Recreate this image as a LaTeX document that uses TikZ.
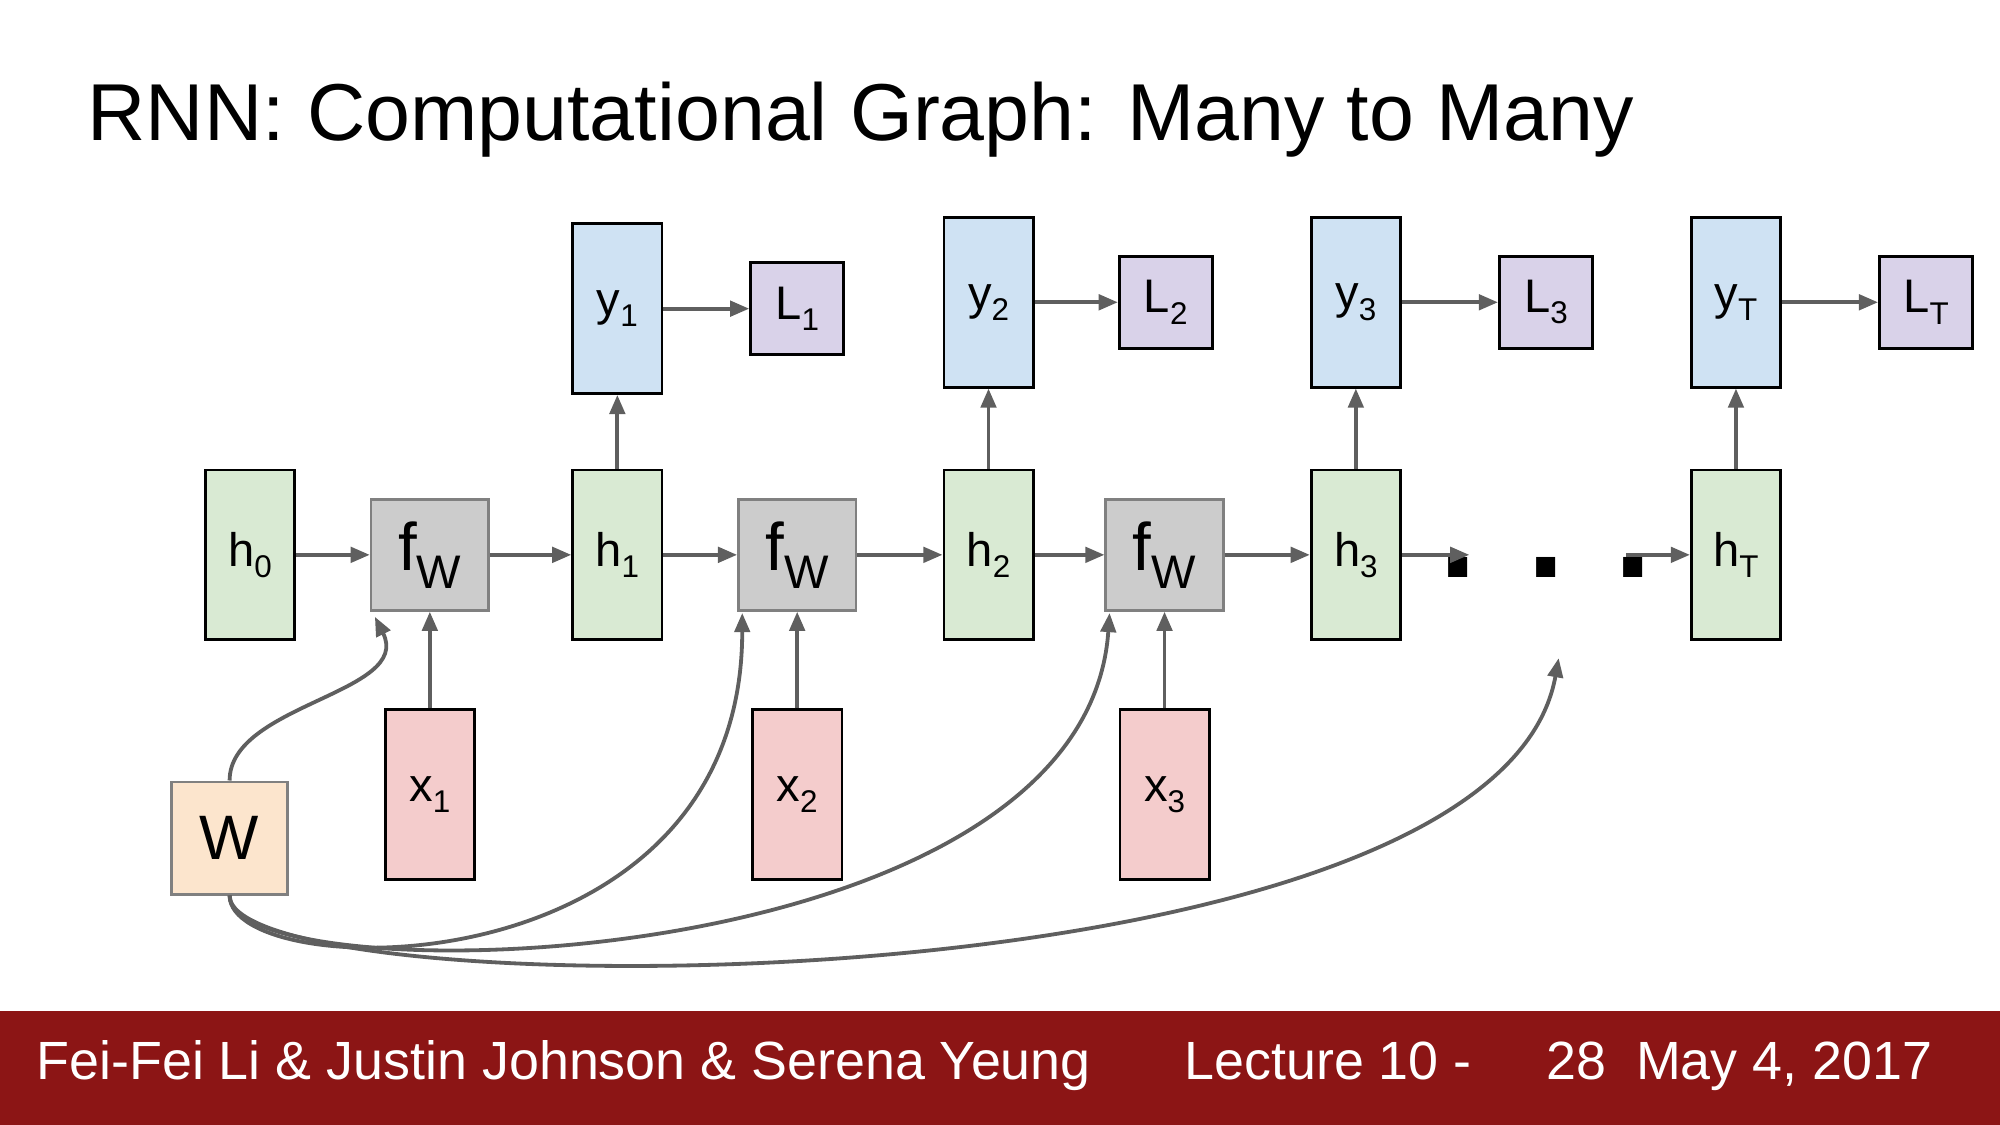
\documentclass[tikz,border=0pt]{standalone}
\usepackage{fontspec}
\setmainfont{Liberation Sans}
\usetikzlibrary{arrows.meta}
\definecolor{hgreen}{RGB}{217,234,211}
\definecolor{yblue}{RGB}{207,226,243}
\definecolor{lpurple}{RGB}{217,210,233}
\definecolor{xred}{RGB}{244,204,204}
\definecolor{fgray}{RGB}{204,204,204}
\definecolor{worange}{RGB}{252,229,205}
\definecolor{linegray}{RGB}{95,95,95}
\definecolor{footred}{RGB}{140,21,21}
\newcommand{\sub}[1]{\raisebox{-0.45ex}{\fontsize{7}{7}\selectfont #1}}

\begin{document}
\begin{tikzpicture}[x=0.01cm, y=-0.01cm,
        every node/.style={font=\fontsize{10.5}{12}\selectfont, inner sep=0pt},
        tallbox/.style={rectangle, draw=black, line width=0.6pt, minimum width=0.70cm, minimum height=1.33cm},
        hbox/.style={tallbox, fill=hgreen},
        ybox/.style={tallbox, fill=yblue},
        xbox/.style={tallbox, fill=xred},
        lbox/.style={rectangle, draw=black, line width=0.6pt, fill=lpurple, minimum width=0.73cm, minimum height=0.72cm},
        fbox/.style={rectangle, draw=gray, line width=0.6pt, fill=fgray, minimum width=0.92cm, minimum height=0.87cm, font=\fontsize{15}{16}\selectfont},
        wbox/.style={rectangle, draw=gray, line width=0.6pt, fill=worange, minimum width=0.91cm, minimum height=0.88cm, font=\fontsize{14}{16}\selectfont},
        arrow/.style={-{Triangle[length=0.15cm, width=0.12cm]}, draw=linegray, fill=linegray, line width=0.85pt}
    ]
        \useasboundingbox (0,0) rectangle (1568,882);
        \fill[footred] (0,793) rectangle (1568,882);

        % Title and footer
        \node[anchor=base west, font=\fontsize{18}{20}\selectfont] (title) at (68,110) {RNN: Computational Graph: Many to Many};
        \node[anchor=base west, text=white, font=\fontsize{12}{14}\selectfont] (authors) at (28,846) {Fei-Fei Li \& Justin Johnson \& Serena Yeung};
        \node[anchor=base west, text=white, font=\fontsize{12}{14}\selectfont] (lecture) at (928,846) {Lecture 10 -};
        \node[anchor=base west, text=white, font=\fontsize{12}{14}\selectfont] (page) at (1212,846) {28};
        \node[anchor=base west, text=white, font=\fontsize{12}{14}\selectfont] (date) at (1282,846) {May 4, 2017};

        % Hidden states and cells
        \node[hbox] (h0) at (196,435) {h\sub{0}};
        \node[fbox] (f1) at (337,435) {f\raisebox{-0.5ex}{\fontsize{10.5}{10}\selectfont W}};
        \node[hbox] (h1) at (484,435) {h\sub{1}};
        \node[fbox] (f2) at (625,435) {f\raisebox{-0.5ex}{\fontsize{10.5}{10}\selectfont W}};
        \node[hbox] (h2) at (775,435) {h\sub{2}};
        \node[fbox] (f3) at (913,435) {f\raisebox{-0.5ex}{\fontsize{10.5}{10}\selectfont W}};
        \node[hbox] (h3) at (1063,435) {h\sub{3}};
        \node[font=\fontsize{30}{30}\selectfont\bfseries] (dots) at (1212,445) {. . .};
        \node[hbox] (hT) at (1361,435) {h\sub{T}};

        % Outputs and losses
        \node[ybox] (y1) at (484,242) {y\sub{1}};
        \node[lbox] (L1) at (625,242) {L\sub{1}};
        \node[ybox] (y2) at (775,237) {y\sub{2}};
        \node[lbox] (L2) at (914,237) {L\sub{2}};
        \node[ybox] (y3) at (1063,237) {y\sub{3}};
        \node[lbox] (L3) at (1212,237) {L\sub{3}};
        \node[ybox] (yT) at (1361,237) {y\sub{T}};
        \node[lbox] (LT) at (1510,237) {L\sub{T}};

        % Inputs and weights
        \node[xbox] (x1) at (337,623) {x\sub{1}};
        \node[xbox] (x2) at (625,623) {x\sub{2}};
        \node[xbox] (x3) at (913,623) {x\sub{3}};
        \node[wbox] (W) at (180,657) {W};

        \coordinate (dotsin) at (1152,435);
        \coordinate (dotsout) at (1275,435);
        \coordinate (dotsw) at (1222,516);

        % Arrows
        \draw[arrow] (h0) -- (f1);
        \draw[arrow] (f1) -- (h1);
        \draw[arrow] (h1) -- (f2);
        \draw[arrow] (f2) -- (h2);
        \draw[arrow] (h2) -- (f3);
        \draw[arrow] (f3) -- (h3);
        \draw[arrow] (h3) -- (dotsin);
        \draw[arrow] (dotsout) -- (hT);
        \foreach \i in {1,2,3,T} {
            \draw[arrow] (h\i) -- (y\i);
            \draw[arrow] (y\i) -- (L\i);
        }
        \foreach \i in {1,2,3}
            \draw[arrow] (x\i) -- (f\i);

        % Shared weights
        \draw[arrow, fill=none] (W.north) .. controls +(0,-60) and +(30,60) .. ([xshift=0.04cm, yshift=-0.04cm]f1.south west);
        \draw[arrow, fill=none] (W.south) .. controls +(0,70) and +(0,300) .. ([xshift=0.04cm, yshift=-0.01cm]f2.south west);
        \draw[arrow, fill=none] (W.south) .. controls +(0,80) and +(-20,290) .. ([xshift=0.04cm, yshift=-0.01cm]f3.south west);
        \draw[arrow, fill=none] (W.south) .. controls +(0,90) and +(-50,280) .. (dotsw);

    \end{tikzpicture}
\end{document}
